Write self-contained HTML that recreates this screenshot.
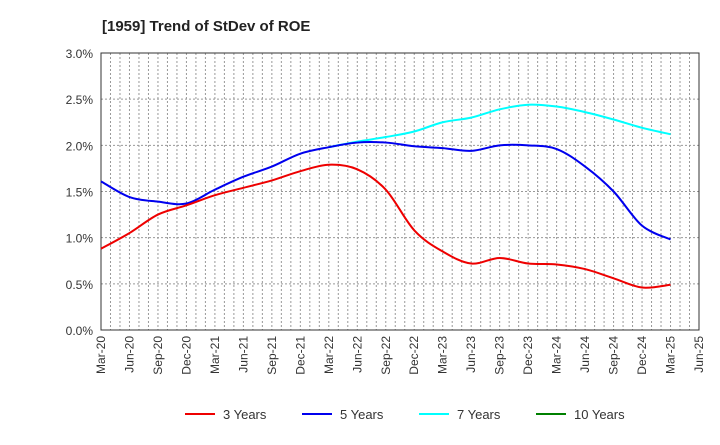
<!DOCTYPE html>
<html><head><meta charset="utf-8"><style>
body{margin:0;background:#fff;font-family:"Liberation Sans",sans-serif}
</style></head><body>
<svg id="c" width="720" height="440" xmlns="http://www.w3.org/2000/svg" font-family="Liberation Sans, sans-serif">
<text x="102" y="31" font-size="15" font-weight="bold" fill="#222">[1959]  Trend of StDev of ROE</text>
</svg>
<script>
const xLabels=["Mar-20","Jun-20","Sep-20","Dec-20","Mar-21","Jun-21","Sep-21","Dec-21","Mar-22","Jun-22","Sep-22","Dec-22","Mar-23","Jun-23","Sep-23","Dec-23","Mar-24","Jun-24","Sep-24","Dec-24","Mar-25","Jun-25"];
const yTicks=[0,0.5,1.0,1.5,2.0,2.5,3.0];
const s3=[0.88,1.05,1.25,1.35,1.46,1.54,1.62,1.72,1.79,1.74,1.52,1.08,0.85,0.72,0.78,0.72,0.71,0.66,0.56,0.46,0.49];
const s5=[1.61,1.44,1.39,1.37,1.52,1.66,1.77,1.91,1.98,2.03,2.03,1.99,1.97,1.94,2.00,2.00,1.96,1.77,1.50,1.13,0.98];
const s7=[null,null,null,null,null,null,null,null,1.98,2.04,2.09,2.15,2.25,2.30,2.39,2.44,2.42,2.36,2.28,2.19,2.12];
const s10=[];
const svg=document.getElementById('c');const NS='http://www.w3.org/2000/svg';
const L=101,R=699,T=53,B=330;
const X=i=>L+i*(R-L)/21;const Y=v=>B-v/3*(B-T);
function mk(t,a,p){const e=document.createElementNS(NS,t);for(const k in a)e.setAttribute(k,a[k]);(p||svg).appendChild(e);return e;}
for(let m=1;m<63;m++){const x=L+m*(R-L)/63;const g=mk('line',{x1:x,x2:x,y1:T,y2:B,stroke:'#999','stroke-dasharray':'2,2','stroke-width':1});

}
yTicks.forEach(v=>{const y=Y(v);if(v>0&&v<3){const g=mk('line',{x1:L,x2:R,y1:y,y2:y,stroke:'#999','stroke-dasharray':'2,2'});

}
const t=mk('text',{x:L-8,y:y+5,'text-anchor':'end','font-size':12,fill:'#333'});t.textContent=v.toFixed(1)+'%';

});
xLabels.forEach((l,i)=>{const x=X(i);const t=mk('text',{transform:`translate(${x+4},${B+6}) rotate(-90)`,'text-anchor':'end','font-size':12,fill:'#333'});t.textContent=l;

});
const fr=mk('rect',{x:L,y:T,width:R-L,height:B-T,fill:'none',stroke:'#333','stroke-width':1});


function path(arr){const p=[];arr.forEach((v,i)=>{if(v!=null)p.push([X(i),Y(v)])});if(p.length<2)return'';let d=`M${p[0][0]},${p[0][1]}`;
for(let i=0;i<p.length-1;i++){const p0=p[i-1]||p[i],p1=p[i],p2=p[i+1],p3=p[i+2]||p2;
d+=` C${p1[0]+(p2[0]-p0[0])/6},${p1[1]+(p2[1]-p0[1])/6} ${p2[0]-(p3[0]-p1[0])/6},${p2[1]-(p3[1]-p1[1])/6} ${p2[0]},${p2[1]}`;}return d;}
[[s7,'#00ffff','series-7-years'],[s5,'#0000ee','series-5-years'],[s3,'#ee0000','series-3-years'],[s10,'#008000','series-10-years']].forEach(([a,c,n])=>{const d=path(a);if(!d)return;const e=mk('path',{d:d,fill:'none',stroke:c,'stroke-width':2});

});
[['3 Years','#ee0000',185],['5 Years','#0000ee',302],['7 Years','#00ffff',419],['10 Years','#008000',536]].forEach(([l,c,x])=>{const g=mk('g',{});


mk('line',{x1:x,x2:x+30,y1:414,y2:414,stroke:c,'stroke-width':2},g);const t=mk('text',{x:x+38,y:419,'font-size':13,fill:'#333'},g);t.textContent=l;});
</script>
</body></html>
